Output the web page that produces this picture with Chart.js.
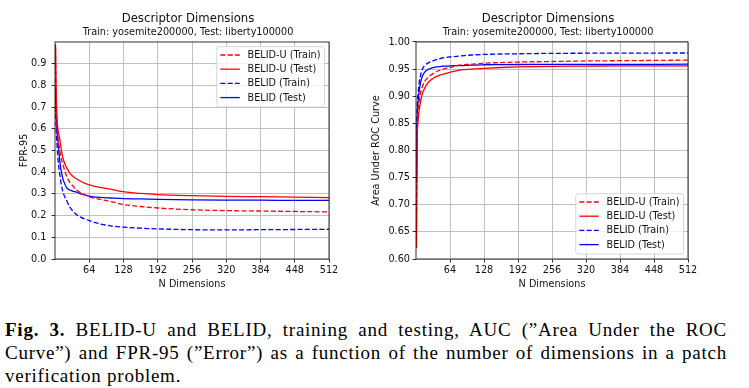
<!DOCTYPE html>
<html>
<head>
<meta charset="utf-8">
<script src="https://cdn.jsdelivr.net/npm/chart.js"></script>
<style>
  body { margin: 0; background: #fff; width: 749px; height: 388px; overflow: hidden; position: relative; }
  canvas { position: absolute; top: 0; }
  #fpr { left: 0; }
  #auc { left: 365px; }
  .cap { position: absolute; left: 5px; top: 318px; width: 722px; font-family: "Liberation Serif", serif;
         font-size: 19px; line-height: 23px; color: #000; letter-spacing: 0.75px; }
  .cap div { text-align: justify; text-align-last: justify; white-space: nowrap; }
  .cap div.last { text-align-last: left; }
</style>
</head>
<body>
<canvas id="fpr" width="376" height="290"></canvas>
<canvas id="auc" width="366" height="290"></canvas>
<div class="cap">
  <div><b>Fig. 3.</b> BELID-U and BELID, training and testing, AUC (”Area Under the ROC</div>
  <div>Curve”) and FPR-95 (”Error”) as a function of the number of dimensions in a patch</div>
  <div class="last">verification problem.</div>
</div>
<script>
const dims = [1, 2, 4, 6, 9, 12, 16, 22, 28, 34, 40, 48, 56, 64, 84, 104, 128, 160, 192, 256, 320, 384, 448, 512];

// FPR-95 (left plot)
const fprUTrain = [0.97, 0.74, 0.60, 0.55, 0.50, 0.46, 0.425, 0.38, 0.352, 0.335, 0.318, 0.305, 0.295, 0.287, 0.275, 0.265, 0.251, 0.242, 0.235, 0.227, 0.223, 0.221, 0.219, 0.217];
const fprUTest  = [0.99, 0.80, 0.64, 0.59, 0.55, 0.50, 0.455, 0.42, 0.395, 0.38, 0.37, 0.358, 0.348, 0.342, 0.330, 0.322, 0.310, 0.302, 0.297, 0.292, 0.289, 0.287, 0.285, 0.283];
const fprBTrain = [0.77, 0.62, 0.52, 0.45, 0.39, 0.34, 0.30, 0.268, 0.238, 0.22, 0.205, 0.193, 0.184, 0.177, 0.162, 0.153, 0.147, 0.142, 0.139, 0.135, 0.134, 0.135, 0.136, 0.137];
const fprBTest  = [0.79, 0.68, 0.58, 0.53, 0.45, 0.40, 0.36, 0.328, 0.318, 0.312, 0.308, 0.30, 0.295, 0.29, 0.284, 0.281, 0.278, 0.277, 0.275, 0.272, 0.271, 0.271, 0.270, 0.270];

// AUC (right plot)
const aucUTrain = [0.66, 0.82, 0.87, 0.89, 0.908, 0.918, 0.927, 0.934, 0.939, 0.943, 0.946, 0.949, 0.9515, 0.953, 0.9576, 0.959, 0.961, 0.962, 0.963, 0.964, 0.965, 0.9655, 0.966, 0.9665];
const aucUTest  = [0.62, 0.80, 0.855, 0.875, 0.892, 0.905, 0.914, 0.924, 0.930, 0.934, 0.937, 0.940, 0.942, 0.944, 0.9484, 0.950, 0.9515, 0.953, 0.954, 0.9552, 0.9556, 0.956, 0.956, 0.956];
const aucBTrain = [0.76, 0.87, 0.905, 0.925, 0.94, 0.95, 0.956, 0.961, 0.964, 0.966, 0.968, 0.970, 0.9715, 0.9725, 0.9742, 0.976, 0.977, 0.9778, 0.9783, 0.979, 0.9793, 0.9795, 0.9796, 0.9797];
const aucBTest  = [0.74, 0.85, 0.89, 0.91, 0.927, 0.937, 0.944, 0.949, 0.9515, 0.953, 0.954, 0.955, 0.9555, 0.956, 0.9565, 0.9575, 0.958, 0.9583, 0.9585, 0.9587, 0.9588, 0.9589, 0.9589, 0.959];

const seriesLabels = ['BELID-U (Train)', 'BELID-U (Test)', 'BELID (Train)', 'BELID (Test)'];
const xTicks = [64, 128, 192, 256, 320, 384, 448, 512];
const fprTicks = [0.0, 0.1, 0.2, 0.3, 0.4, 0.5, 0.6, 0.7, 0.8, 0.9];
const aucTicks = [0.60, 0.65, 0.70, 0.75, 0.80, 0.85, 0.90, 0.95, 1.00];

const FONT = 'DejaVu Sans';
const RED = 'rgb(255,0,0)', BLUE = 'rgb(0,0,255)';
const DASH = [5, 2.3];

// axes box (matplotlib spines)
const frame = {
  id: 'frame',
  afterDatasetsDraw(chart) {
    const { ctx, chartArea: a } = chart;
    ctx.save();
    ctx.strokeStyle = '#000';
    ctx.lineWidth = 0.8;
    ctx.strokeRect(a.left, a.top, a.right - a.left, a.bottom - a.top);
    ctx.restore();
  }
};

// legend box inside the plot, like matplotlib's
const boxLegend = {
  id: 'boxLegend',
  afterDraw(chart, args, opts) {
    const { ctx, chartArea: a } = chart;
    const sets = chart.data.datasets;
    ctx.save();
    ctx.font = '9.7px "' + FONT + '"';
    const tw = Math.max(...sets.map(s => ctx.measureText(s.label).width));
    const w = 3.6 + 19.4 + 7.8 + tw + 4;
    const rowH = 14.2;
    const h = 1.2 + rowH * sets.length + 2.3;
    const x = a.right - 4.5 - w;
    const y = opts.corner === 'tr' ? a.top + 4.7 : a.bottom - 5 - h;
    ctx.beginPath();
    ctx.roundRect(x, y, w, h, 2.5);
    ctx.fillStyle = 'rgba(255,255,255,0.8)';
    ctx.fill();
    ctx.strokeStyle = '#cccccc';
    ctx.lineWidth = 0.8;
    ctx.stroke();
    sets.forEach((s, i) => {
      const cy = y + 1.2 + rowH * i + rowH / 2;
      ctx.beginPath();
      ctx.setLineDash(s.borderDash || []);
      ctx.strokeStyle = s.borderColor;
      ctx.lineWidth = s.borderWidth;
      ctx.moveTo(x + 3.6, cy);
      ctx.lineTo(x + 23, cy);
      ctx.stroke();
      ctx.setLineDash([]);
      ctx.fillStyle = '#111';
      ctx.textBaseline = 'middle';
      ctx.fillText(s.label, x + 30.8, cy + 0.5);
    });
    ctx.restore();
  }
};

const series = (label, ys, color, dashed) => ({
  label,
  data: dims.map((d, i) => ({ x: d, y: ys[i] })),
  borderColor: color,
  borderWidth: 1.3,
  borderDash: dashed ? DASH : [],
  pointRadius: 0,
  fill: false,
  cubicInterpolationMode: 'monotone'
});

const makeChart = (id, cfg) => {
  const tickFont = { family: FONT, size: 9.7 };
  const grid = {
    color: '#b0b0b0', lineWidth: 0.8, borderDash: [3, 1.6],
    tickLength: 3.5, tickColor: '#000', tickWidth: 0.8, tickBorderDash: []
  };
  return new Chart(document.getElementById(id), {
    type: 'line',
    data: {
      datasets: [
        series(seriesLabels[0], cfg.values[0], RED, true),
        series(seriesLabels[1], cfg.values[1], RED, false),
        series(seriesLabels[2], cfg.values[2], BLUE, true),
        series(seriesLabels[3], cfg.values[3], BLUE, false)
      ]
    },
    options: {
      responsive: false,
      animation: false,
      devicePixelRatio: 1,
      layout: { padding: 0 },
      plugins: {
        legend: { display: false },
        tooltip: { enabled: false },
        title: {
          display: true, text: 'Descriptor Dimensions', color: '#111',
          font: { family: FONT, size: 11.7, weight: 'normal', lineHeight: 1.2 },
          padding: { top: 12, bottom: 1 }
        },
        subtitle: {
          display: true, text: 'Train: yosemite200000, Test: liberty100000', color: '#111',
          font: { family: FONT, size: 9.7, lineHeight: 1.2 },
          padding: { top: 0, bottom: 3.3 }
        },
        boxLegend: { corner: cfg.corner }
      },
      scales: {
        x: {
          type: 'linear', min: 0, max: 512,
          afterBuildTicks: s => { s.ticks = xTicks.map(v => ({ value: v })); },
          afterFit: s => { s.height = 31; },
          ticks: { font: tickFont, color: '#111', padding: 2, maxRotation: 0 },
          grid,
          border: { display: false },
          title: { display: true, text: 'N Dimensions', color: '#111', font: tickFont, padding: 0 }
        },
        y: {
          type: 'linear', min: cfg.yMin, max: cfg.yMax,
          afterBuildTicks: s => { s.ticks = cfg.yTicks.map(v => ({ value: v })); },
          afterFit: s => { s.width = cfg.yWidth; },
          ticks: { font: tickFont, color: '#111', padding: cfg.tickPad, callback: v => v.toFixed(cfg.decimals) },
          grid,
          border: { display: false },
          title: { display: true, text: cfg.yTitle, color: '#111', font: tickFont, padding: { top: cfg.titlePad, bottom: 0 } }
        },
        // empty right box so the plot area stops where the original does
        yr: {
          position: 'right', display: true,
          grid: { display: false }, ticks: { display: false }, border: { display: false },
          afterFit: s => { s.width = cfg.rightPad; }
        }
      }
    },
    plugins: [frame, boxLegend]
  });
};

makeChart('fpr', {
  values: [fprUTrain, fprUTest, fprBTrain, fprBTest],
  yMin: 0, yMax: 1.0, yTicks: fprTicks, decimals: 1,
  yTitle: 'FPR-95', yWidth: 55, rightPad: 47, tickPad: 5, titlePad: 18.2, corner: 'tr'
});

makeChart('auc', {
  values: [aucUTrain, aucUTest, aucBTrain, aucBTest],
  yMin: 0.6, yMax: 1.0, yTicks: aucTicks, decimals: 2,
  yTitle: 'Area Under ROC Curve', yWidth: 51, rightPad: 43, tickPad: 2.5, titlePad: 5.5, corner: 'br'
});
</script>
</body>
</html>
